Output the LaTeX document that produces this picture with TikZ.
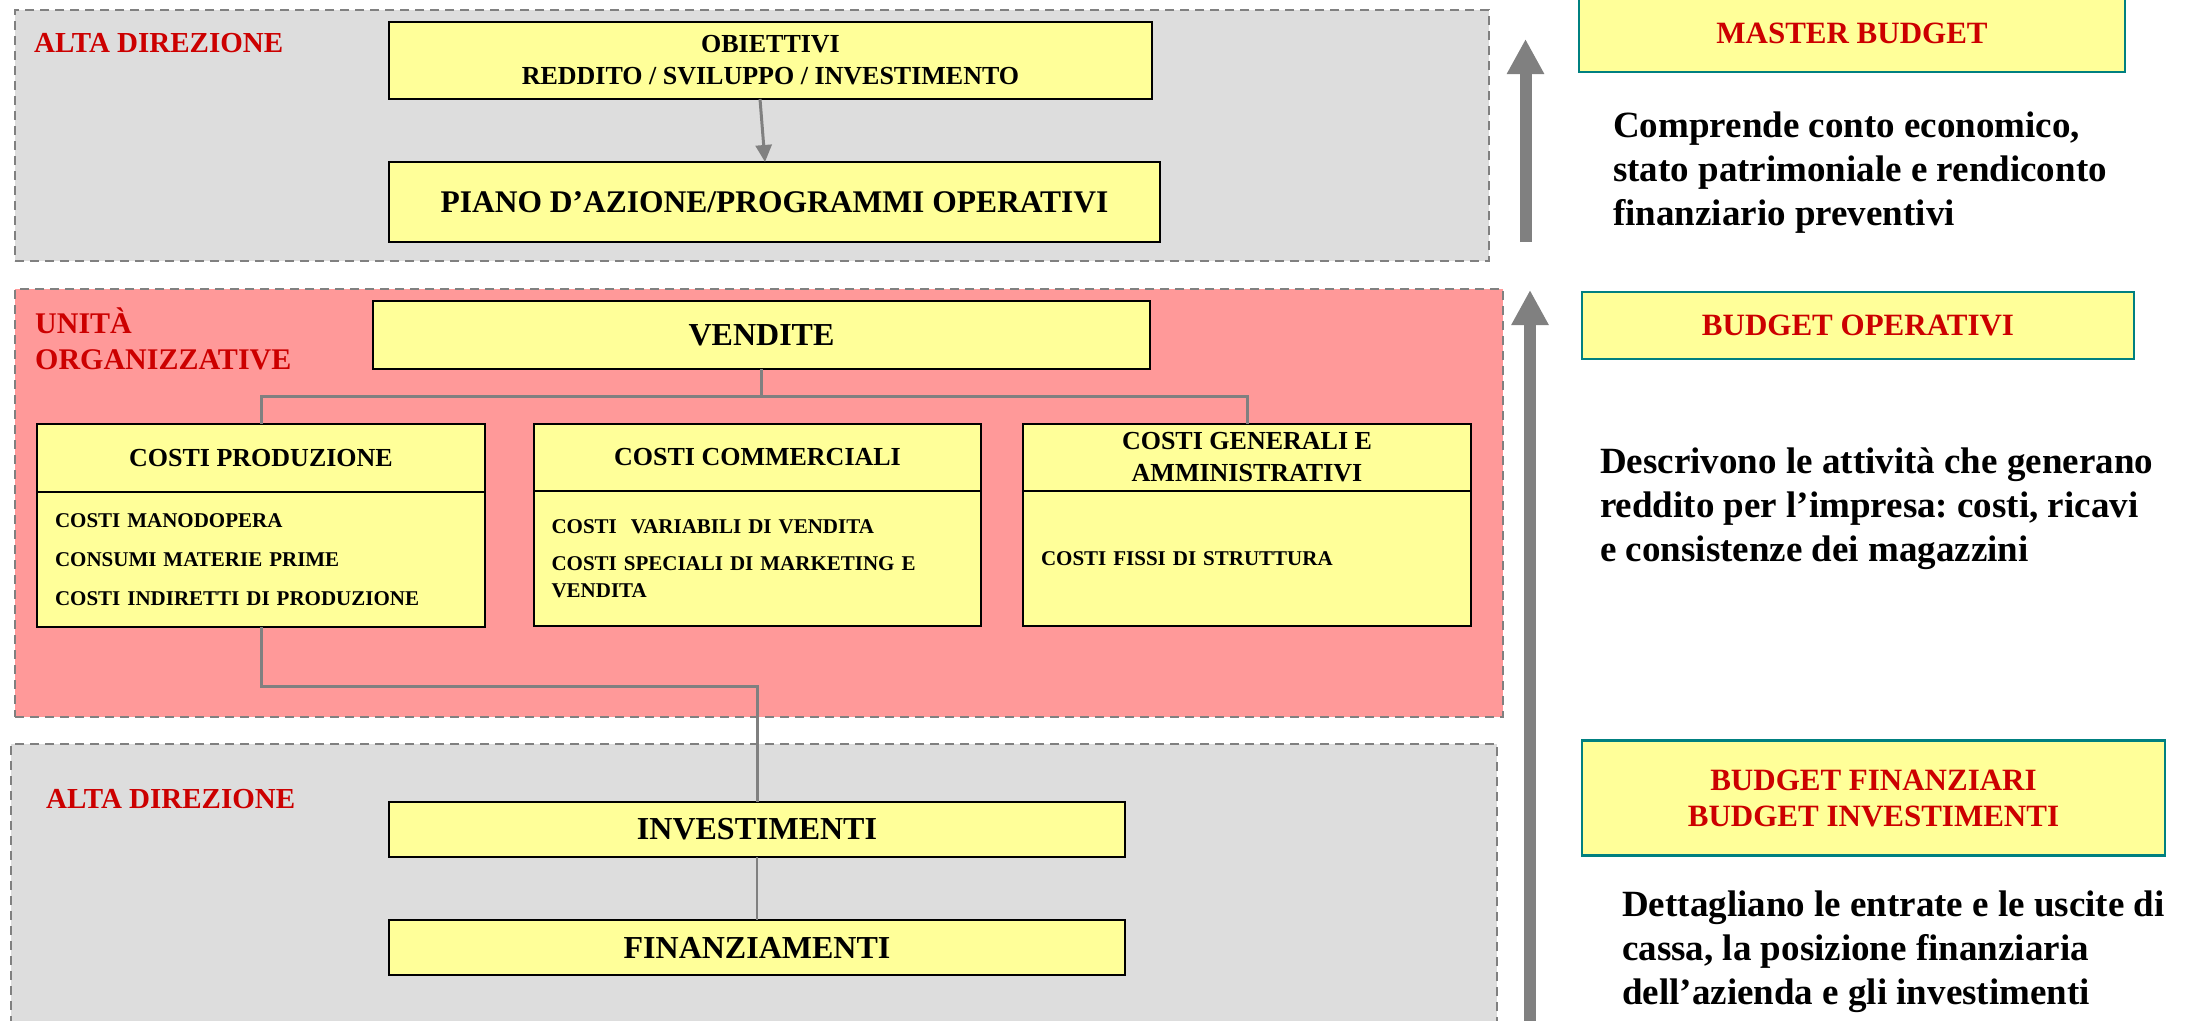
\documentclass[tikz,border=0pt]{standalone}
\usepackage{fontspec}
\setmainfont{Liberation Serif}
\usetikzlibrary{arrows.meta,calc}
\definecolor{yel}{HTML}{FFFF99}
\definecolor{pinkf}{HTML}{FF9999}
\definecolor{grayf}{HTML}{DDDDDD}
\definecolor{lineg}{HTML}{808080}
\definecolor{redt}{HTML}{CC0000}
\definecolor{tealb}{HTML}{008080}
\newcommand\fsz[2]{\fontsize{#1}{#2}\selectfont}
\frenchspacing
\begin{document}
\begin{tikzpicture}[x=1pt,y=-1pt,
  cont/.style={draw=lineg, line width=2.5pt, dash pattern=on 9pt off 6pt, inner sep=0pt, outer sep=0pt},
  ybox/.style={draw=black, line width=2.4pt, fill=yel, inner sep=0pt, outer sep=0pt, align=center, font=\bfseries\fsz{26}{32}},
  bodybox/.style={ybox, text width=412pt, align=left, font=\bfseries\fsz{21}{27}},
  rbox/.style={draw=tealb, line width=2.5pt, fill=yel, inner sep=0pt, outer sep=0pt, align=center, text=redt, font=\bfseries\fsz{31}{36}},
  rlab/.style={inner sep=0pt, text=redt, align=left, font=\bfseries\fsz{29}{36}},
  note/.style={inner sep=0pt, align=left, anchor=north west, font=\bfseries\fsz{37}{44}},
  conn/.style={draw=lineg, line width=3pt},
  bigarr/.style={draw=lineg, line width=12pt, -{Triangle[width=35pt,length=35pt]}, lineg}
]
\useasboundingbox (0,0) rectangle (2192,1020);
\clip (0,0) rectangle (2192,1020);

% containers
\node[cont, fill=grayf, minimum width=1474pt, minimum height=251pt] (topc) at (752,135.5) {};
\node[cont, fill=pinkf, minimum width=1488pt, minimum height=428pt] (midc) at (759,503) {};
\node[cont, fill=grayf, minimum width=1486pt, minimum height=296pt] (botc) at (754,892) {};

% labels
\node[rlab, anchor=base west] (lab1) at (34,52) {ALTA DIREZIONE};
\node[rlab, anchor=north west, font=\bfseries\fsz{30}{36}] (lab2) at (35,308) {UNITÀ\\ORGANIZZATIVE};
\node[rlab, anchor=base west] (lab3) at (46,808) {ALTA DIREZIONE};

% top section
\node[ybox, minimum width=763pt, minimum height=77pt] (obj) at (770.5,60.5) {OBIETTIVI\\REDDITO / SVILUPPO / INVESTIMENTO};
\node[ybox, minimum width=771pt, minimum height=80pt, font=\bfseries\fsz{31.5}{36}] (piano) at (774.5,202) {PIANO D’AZIONE/PROGRAMMI OPERATIVI};

% middle section
\node[ybox, minimum width=777pt, minimum height=68pt, font=\bfseries\fsz{32}{36}] (vend) at (761.5,335) {VENDITE};
\node[ybox, minimum width=448pt, minimum height=68pt] (prodH) at (261,458) {COSTI PRODUZIONE};
\node[bodybox, minimum width=448pt, minimum height=135pt] (prodB) at (261,559.5) {COSTI MANODOPERA\\[12pt]CONSUMI MATERIE PRIME\\[12pt]COSTI INDIRETTI DI PRODUZIONE};
\node[ybox, minimum width=447pt, minimum height=67pt] (commH) at (757.5,457.5) {COSTI COMMERCIALI};
\node[bodybox, minimum width=447pt, minimum height=135pt] (commB) at (757.5,558.5) {COSTI~ VARIABILI DI VENDITA\\[10pt]COSTI SPECIALI DI MARKETING E\\VENDITA};
\node[ybox, minimum width=448pt, minimum height=67pt] (genH) at (1247,457.5) {COSTI GENERALI E\\AMMINISTRATIVI};
\node[bodybox, minimum width=448pt, minimum height=135pt] (genB) at (1247,558.5) {COSTI FISSI DI STRUTTURA};

% bottom section
\node[ybox, minimum width=736pt, minimum height=55pt, font=\bfseries\fsz{32}{36}] (inv) at (757,829.5) {INVESTIMENTI};
\node[ybox, minimum width=736pt, minimum height=55pt, font=\bfseries\fsz{32}{36}] (fin) at (757,947.5) {FINANZIAMENTI};

% connectors
\draw[conn, -{Triangle[width=16pt,length=17pt]}] ([xshift=-10.5pt]obj.south) -- ([xshift=-9.5pt]piano.north);
\coordinate (bus) at (761.5,396);
\draw[conn] (vend.south) -- (bus);
\draw[conn] (prodH.north) |- (bus) -| (genH.north);
\coordinate (jn) at (500,686);
\draw[conn] (prodB.south) |- (jn) -| (inv.north);
\draw[conn, line width=2.5pt] (inv.south) -- (fin.north);

% right column
\node[rbox, minimum width=546pt, minimum height=77pt] (master) at (1852,33.5) {MASTER BUDGET};
\node[rbox, minimum width=552pt, minimum height=67pt] (bop) at (1858,325.5) {BUDGET OPERATIVI};
\node[rbox, minimum width=583pt, minimum height=115pt] (bfin) at (1873.5,798) {BUDGET FINANZIARI\\BUDGET INVESTIMENTI};

\node[note] (t1) at (1613,112) {Comprende conto economico,\\stato patrimoniale e rendiconto\\finanziario preventivi};
\node[note] (t2) at (1600,448) {Descrivono le attività che generano\\reddito per l’impresa: costi, ricavi\\e consistenze dei magazzini};
\node[note] (t3) at (1622,891) {Dettagliano le entrate e le uscite di\\cassa, la posizione finanziaria\\dell’azienda e gli investimenti};

% big arrows
\coordinate (ua0) at (1525.5,242);
\coordinate (ua1) at (1525.5,39);
\draw[bigarr] (ua0) -- (ua1);
\coordinate (la0) at (1530,1040);
\coordinate (la1) at (1530,290);
\draw[bigarr] (la0) -- (la1);
\end{tikzpicture}
\end{document}
